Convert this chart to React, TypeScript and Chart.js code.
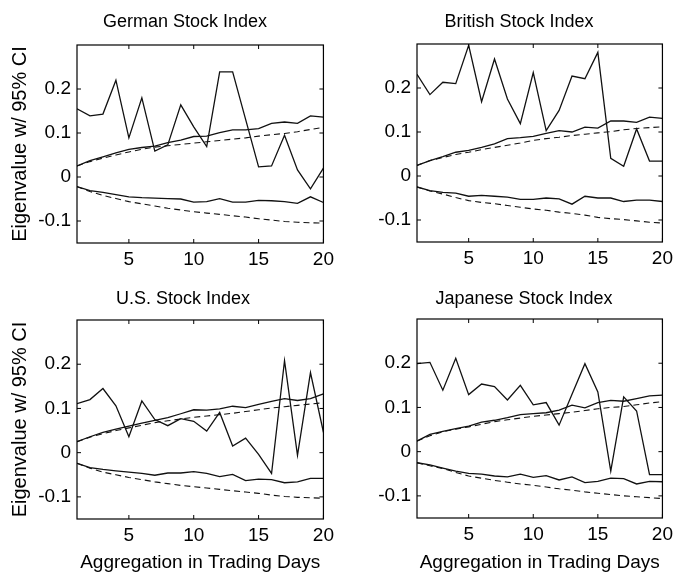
import React, { useEffect, useRef } from "react";
import { Chart, registerables } from "chart.js";

Chart.register(...registerables);

// ---------- data ----------
const days = [1, 2, 3, 4, 5, 6, 7, 8, 9, 10, 11, 12, 13, 14, 15, 16, 17, 18, 19, 20];
const xTickValues = [5, 10, 15, 20];
const yTickValues = [-0.1, 0, 0.1, 0.2];
const yMin = -0.15;
const yMax = 0.3;

const yAxisTitle = "Eigenvalue w/ 95% CI";
const xAxisTitle = "Aggregation in Trading Days";

const germanTitle = "German Stock Index";
const germanEig = [0.155, 0.139, 0.143, 0.22, 0.089, 0.18, 0.059, 0.073, 0.164, 0.114, 0.069, 0.239, 0.239, 0.131, 0.023, 0.025, 0.095, 0.016, -0.027, 0.02];
const germanUpper = [0.025, 0.037, 0.046, 0.055, 0.063, 0.067, 0.07, 0.078, 0.084, 0.092, 0.093, 0.101, 0.107, 0.107, 0.11, 0.122, 0.125, 0.122, 0.139, 0.136];
const germanUpperRef = [0.025, 0.035, 0.043, 0.05, 0.057, 0.063, 0.068, 0.071, 0.074, 0.077, 0.08, 0.083, 0.086, 0.089, 0.093, 0.096, 0.099, 0.103, 0.108, 0.113];
const germanLower = [-0.022, -0.031, -0.035, -0.04, -0.045, -0.047, -0.048, -0.049, -0.05, -0.057, -0.056, -0.049, -0.057, -0.057, -0.053, -0.054, -0.056, -0.06, -0.045, -0.058];
const germanLowerRef = [-0.022, -0.033, -0.042, -0.049, -0.056, -0.061, -0.066, -0.071, -0.075, -0.079, -0.082, -0.085, -0.088, -0.091, -0.095, -0.098, -0.101, -0.103, -0.104, -0.105];

const britishTitle = "British Stock Index";
const britishEig = [0.231, 0.185, 0.213, 0.21, 0.297, 0.169, 0.266, 0.175, 0.119, 0.235, 0.103, 0.149, 0.227, 0.221, 0.281, 0.04, 0.022, 0.107, 0.034, 0.034];
const britishUpper = [0.024, 0.035, 0.044, 0.054, 0.058, 0.065, 0.073, 0.085, 0.087, 0.09, 0.097, 0.103, 0.1, 0.111, 0.109, 0.125, 0.125, 0.122, 0.134, 0.131];
const britishUpperRef = [0.024, 0.035, 0.042, 0.049, 0.054, 0.06, 0.065, 0.07, 0.075, 0.081, 0.085, 0.088, 0.092, 0.095, 0.098, 0.101, 0.105, 0.108, 0.11, 0.112];
const britishLower = [-0.025, -0.033, -0.037, -0.039, -0.046, -0.044, -0.046, -0.048, -0.053, -0.053, -0.05, -0.052, -0.064, -0.046, -0.05, -0.05, -0.058, -0.055, -0.055, -0.058];
const britishLowerRef = [-0.025, -0.034, -0.041, -0.049, -0.056, -0.06, -0.063, -0.067, -0.071, -0.075, -0.078, -0.082, -0.085, -0.089, -0.094, -0.097, -0.099, -0.102, -0.105, -0.107];

const usTitle = "U.S. Stock Index";
const usEig = [0.111, 0.12, 0.145, 0.106, 0.036, 0.117, 0.075, 0.061, 0.077, 0.071, 0.049, 0.091, 0.015, 0.033, -0.004, -0.047, 0.208, -0.006, 0.181, 0.046];
const usUpper = [0.025, 0.036, 0.046, 0.053, 0.06, 0.067, 0.073, 0.079, 0.088, 0.097, 0.096, 0.099, 0.105, 0.102, 0.109, 0.116, 0.122, 0.118, 0.122, 0.133];
const usUpperRef = [0.025, 0.035, 0.043, 0.05, 0.056, 0.062, 0.068, 0.072, 0.076, 0.08, 0.083, 0.086, 0.089, 0.093, 0.097, 0.101, 0.104, 0.107, 0.11, 0.113];
const usLower = [-0.024, -0.034, -0.038, -0.041, -0.044, -0.047, -0.051, -0.046, -0.046, -0.043, -0.047, -0.054, -0.049, -0.063, -0.06, -0.061, -0.068, -0.066, -0.058, -0.058];
const usLowerRef = [-0.024, -0.035, -0.044, -0.05, -0.056, -0.061, -0.066, -0.07, -0.074, -0.077, -0.08, -0.083, -0.086, -0.089, -0.092, -0.096, -0.099, -0.101, -0.102, -0.103];

const japanTitle = "Japanese Stock Index";
const japanEig = [0.199, 0.202, 0.139, 0.211, 0.129, 0.153, 0.147, 0.117, 0.15, 0.106, 0.111, 0.06, 0.13, 0.199, 0.135, -0.044, 0.124, 0.092, -0.052, -0.052];
const japanUpper = [0.024, 0.039, 0.046, 0.052, 0.058, 0.067, 0.071, 0.077, 0.084, 0.086, 0.088, 0.094, 0.105, 0.099, 0.111, 0.116, 0.114, 0.12, 0.126, 0.128];
const japanUpperRef = [0.024, 0.036, 0.045, 0.051, 0.056, 0.062, 0.068, 0.072, 0.076, 0.08, 0.083, 0.086, 0.089, 0.093, 0.097, 0.1, 0.102, 0.106, 0.11, 0.113];
const japanLower = [-0.025, -0.03, -0.037, -0.044, -0.049, -0.051, -0.055, -0.057, -0.051, -0.058, -0.054, -0.064, -0.057, -0.07, -0.067, -0.06, -0.061, -0.073, -0.067, -0.068];
const japanLowerRef = [-0.025, -0.032, -0.038, -0.047, -0.055, -0.06, -0.065, -0.069, -0.073, -0.076, -0.08, -0.084, -0.087, -0.091, -0.094, -0.097, -0.1, -0.102, -0.104, -0.106];

// ---------- styling ----------
const FONT = "'Liberation Sans', Arial, Helvetica, sans-serif";
const TICK_SIZE = 19;
const TITLE_SIZE = 18;
const YTITLE_SIZE = 20;
const XTITLE_SIZE = 19;
const INK = "#111";

type Layout = {
  left: number; top: number; width: number; height: number;
  plotLeft: number; plotTop: number; plotRight: number; plotBottom: number;
  titleCenterX: number; titleCenterY: number; showY: boolean; showX: boolean;
};

const formatY = (v: number) => (Math.abs(v) < 1e-9 ? "0" : Number(v).toFixed(1));

function widestYLabel(): number {
  const c = document.createElement("canvas").getContext("2d");
  if (!c) return 34;
  c.font = `normal ${TICK_SIZE}px ${FONT}`;
  return Math.max(...yTickValues.map((v) => c.measureText(formatY(v)).width));
}

const framePlugin = {
  id: "matlabFrame",
  afterDatasetsDraw(chart: any) {
    const { ctx, chartArea } = chart;
    const { left, right, top, bottom } = chartArea;
    const xs = chart.scales.x;
    const ys = chart.scales.y;
    const tl = 4;
    ctx.save();
    ctx.strokeStyle = "#000";
    ctx.lineWidth = 1.2;
    ctx.strokeRect(left, top, right - left, bottom - top);
    ctx.lineWidth = 1;
    ctx.beginPath();
    xs.ticks.forEach((t: any) => {
      const px = xs.getPixelForValue(t.value);
      ctx.moveTo(px, bottom);
      ctx.lineTo(px, bottom - tl);
      ctx.moveTo(px, top);
      ctx.lineTo(px, top + tl);
    });
    ys.ticks.forEach((t: any) => {
      const py = ys.getPixelForValue(t.value);
      ctx.moveTo(left, py);
      ctx.lineTo(left + tl, py);
      ctx.moveTo(right, py);
      ctx.lineTo(right - tl, py);
    });
    ctx.stroke();
    ctx.restore();
  },
};

function toPoints(values: number[]) {
  return days.map((d, i) => ({ x: d, y: values[i] }));
}

function Panel(props: {
  title: string; eig: number[]; upper: number[]; upperRef: number[];
  lower: number[]; lowerRef: number[]; layout: Layout;
}) {
  const ref = useRef<HTMLCanvasElement | null>(null);
  const L = props.layout;

  useEffect(() => {
    if (!ref.current) return;
    const padRight = L.left + L.width - L.plotRight;
    // title (full width box) is centred between padLeft and width - padRight
    const padLeft = Math.max(0, 2 * (L.titleCenterX - L.left) - (L.width - padRight));
    const yAxisWidth = L.plotLeft - L.left - padLeft;
    const xAxisHeight = L.top + L.height - L.plotBottom;
    const plotTopRel = L.plotTop - L.top;
    const titleLH = TITLE_SIZE * 1.2;
    const titleCenterRel = L.titleCenterY - L.top;
    const titlePadTop = titleCenterRel - titleLH / 2;
    const titlePadBottom = plotTopRel - titleCenterRel - titleLH / 2;
    const yTitleCenterRel = 20;
    const yTitlePad = yTitleCenterRel - padLeft - (YTITLE_SIZE * 1.2) / 2;
    const xTitleCenterAbs = 563;
    const xTitlePad = L.top + L.height - xTitleCenterAbs - (XTITLE_SIZE * 1.2) / 2;
    // mirrored labels (no clipping): x = right + padding + widest, right aligned
    const yLabelPad = -6 - widestYLabel();

    const solid = (data: number[]) => ({
      data: toPoints(data),
      borderColor: INK,
      borderWidth: 1.3,
      pointRadius: 0,
      tension: 0,
      fill: false,
    });
    const dashed = (data: number[]) => ({
      data: toPoints(data),
      borderColor: INK,
      borderWidth: 1.1,
      borderDash: [6, 4],
      pointRadius: 0,
      tension: 0,
      fill: false,
    });

    const chart = new Chart(ref.current, {
      type: "line",
      data: {
        datasets: [
          solid(props.eig),
          solid(props.upper),
          dashed(props.upperRef),
          solid(props.lower),
          dashed(props.lowerRef),
        ] as any,
      },
      options: {
        animation: false,
        responsive: false,
        devicePixelRatio: 1,
        layout: { padding: { left: padLeft, right: padRight, top: 0, bottom: 0 } },
        plugins: {
          legend: { display: false },
          tooltip: { enabled: false },
          title: {
            display: true,
            text: props.title,
            color: "#000",
            font: { family: FONT, size: TITLE_SIZE, weight: "normal" as any },
            padding: { top: titlePadTop, bottom: titlePadBottom },
          },
        },
        scales: {
          x: {
            type: "linear",
            min: 1,
            max: 20,
            grid: { display: false, drawTicks: false },
            border: { display: false },
            afterBuildTicks: (s: any) => {
              s.ticks = xTickValues.map((v) => ({ value: v }));
            },
            afterFit: (s: any) => {
              s.height = xAxisHeight;
            },
            ticks: {
              color: "#000",
              font: { family: FONT, size: TICK_SIZE },
              padding: 5,
              maxRotation: 0,
              autoSkip: false,
              callback: (v: any) => String(v),
            },
            title: {
              display: L.showX,
              text: xAxisTitle,
              color: "#000",
              font: { family: FONT, size: XTITLE_SIZE },
              padding: { top: 0, bottom: xTitlePad },
            },
          },
          y: {
            type: "linear",
            min: yMin,
            max: yMax,
            grid: { display: false, drawTicks: false },
            border: { display: false },
            afterBuildTicks: (s: any) => {
              s.ticks = yTickValues.map((v) => ({ value: v }));
            },
            afterFit: (s: any) => {
              s.width = yAxisWidth;
            },
            ticks: {
              color: "#000",
              font: { family: FONT, size: TICK_SIZE },
              mirror: true,
              crossAlign: "far",
              padding: yLabelPad,
              autoSkip: false,
              callback: (v: any) => formatY(v),
            },
            title: {
              display: L.showY,
              text: yAxisTitle,
              color: "#000",
              font: { family: FONT, size: YTITLE_SIZE },
              padding: { top: yTitlePad, bottom: 0 },
            },
          },
        },
      },
      plugins: [framePlugin],
    } as any);
    return () => chart.destroy();
  }, []);

  return (
    <canvas
      ref={ref}
      width={L.width}
      height={L.height}
      style={{ position: "absolute", left: L.left, top: L.top, width: L.width, height: L.height }}
    />
  );
}

export default function App() {
  return (
    <div style={{ position: "absolute", left: 0, top: 0, width: 678, height: 577, background: "#fff", overflow: "hidden" }}>
      <Panel
        title={germanTitle} eig={germanEig} upper={germanUpper} upperRef={germanUpperRef}
        lower={germanLower} lowerRef={germanLowerRef}
        layout={{ left: 0, top: 0, width: 339, height: 288, plotLeft: 77, plotTop: 45, plotRight: 324, plotBottom: 243, titleCenterX: 185, titleCenterY: 22, showY: true, showX: false }}
      />
      <Panel
        title={britishTitle} eig={britishEig} upper={britishUpper} upperRef={britishUpperRef}
        lower={britishLower} lowerRef={britishLowerRef}
        layout={{ left: 339, top: 0, width: 339, height: 288, plotLeft: 417, plotTop: 44, plotRight: 664, plotBottom: 242, titleCenterX: 519, titleCenterY: 22, showY: false, showX: false }}
      />
      <Panel
        title={usTitle} eig={usEig} upper={usUpper} upperRef={usUpperRef}
        lower={usLower} lowerRef={usLowerRef}
        layout={{ left: 0, top: 278, width: 339, height: 299, plotLeft: 77, plotTop: 320, plotRight: 324, plotBottom: 519, titleCenterX: 183, titleCenterY: 299, showY: true, showX: true }}
      />
      <Panel
        title={japanTitle} eig={japanEig} upper={japanUpper} upperRef={japanUpperRef}
        lower={japanLower} lowerRef={japanLowerRef}
        layout={{ left: 339, top: 278, width: 339, height: 299, plotLeft: 417, plotTop: 319, plotRight: 664, plotBottom: 518, titleCenterX: 524, titleCenterY: 299, showY: false, showX: true }}
      />
    </div>
  );
}
